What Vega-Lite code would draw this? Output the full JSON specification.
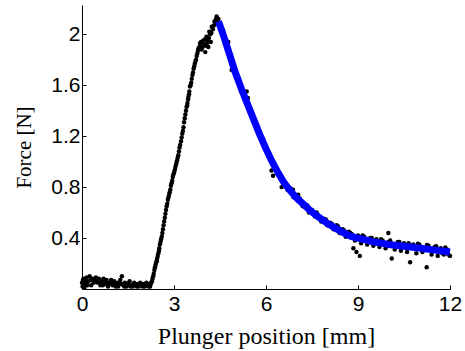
{
  "$schema": "https://vega.github.io/schema/vega-lite/v6.json",
  "autosize": "none",
  "padding": {"left": 82, "top": 5, "right": 15, "bottom": 62},
  "width": 368,
  "height": 284,
  "background": "white",
  "config": {
    "view": {"stroke": null},
    "axis": {
      "grid": false,
      "domainColor": "#000000",
      "tickColor": "#000000",
      "labelColor": "#000000",
      "titleColor": "#000000",
      "labelFont": "Liberation Sans",
      "labelFontSize": 21,
      "titleFont": "Liberation Serif",
      "titleFontWeight": "normal",
      "tickSize": -4
    }
  },
  "datasets": {
    "points": [
      {"x": 0.00, "y": 0.05}, {"x": 0.02, "y": 0.02}, {"x": 0.05, "y": 0.08}, {"x": 0.08, "y": 0.01}, {"x": 0.10, "y": 0.04},
      {"x": 0.15, "y": 0.09}, {"x": 0.20, "y": 0.06}, {"x": 0.25, "y": 0.10}, {"x": 0.30, "y": 0.03}, {"x": 0.35, "y": 0.08},
      {"x": 0.40, "y": 0.07}, {"x": 0.45, "y": 0.09}, {"x": 0.50, "y": 0.05}, {"x": 0.55, "y": 0.08}, {"x": 0.60, "y": 0.03},
      {"x": 0.65, "y": 0.06}, {"x": 0.70, "y": 0.08}, {"x": 0.75, "y": 0.04}, {"x": 0.80, "y": 0.07}, {"x": 0.85, "y": 0.02},
      {"x": 0.90, "y": 0.05}, {"x": 0.95, "y": 0.07}, {"x": 1.00, "y": 0.03}, {"x": 1.05, "y": 0.06}, {"x": 1.10, "y": 0.02},
      {"x": 1.15, "y": 0.05}, {"x": 1.20, "y": 0.04}, {"x": 1.25, "y": 0.07}, {"x": 1.30, "y": 0.10}, {"x": 1.35, "y": 0.03},
      {"x": 1.40, "y": 0.05}, {"x": 1.45, "y": 0.02}, {"x": 1.50, "y": 0.04}, {"x": 1.55, "y": 0.06}, {"x": 1.60, "y": 0.03},
      {"x": 1.65, "y": 0.02}, {"x": 1.70, "y": 0.05}, {"x": 1.75, "y": 0.03}, {"x": 1.80, "y": 0.04}, {"x": 1.85, "y": 0.02},
      {"x": 1.90, "y": 0.05}, {"x": 1.95, "y": 0.03}, {"x": 2.00, "y": 0.04}, {"x": 2.05, "y": 0.02}, {"x": 2.10, "y": 0.05},
      {"x": 2.15, "y": 0.03}, {"x": 2.20, "y": 0.04},
      {"x": 0.03, "y": 0.07}, {"x": 0.12, "y": 0.06}, {"x": 0.18, "y": 0.03}, {"x": 0.28, "y": 0.07}, {"x": 0.38, "y": 0.05},
      {"x": 0.48, "y": 0.07}, {"x": 0.58, "y": 0.05}, {"x": 0.68, "y": 0.03}, {"x": 0.78, "y": 0.06}, {"x": 0.88, "y": 0.04},
      {"x": 0.98, "y": 0.05}, {"x": 1.08, "y": 0.04}, {"x": 1.18, "y": 0.02}, {"x": 1.28, "y": 0.04}, {"x": 1.38, "y": 0.02},
      {"x": 1.48, "y": 0.03}, {"x": 1.58, "y": 0.02}, {"x": 1.68, "y": 0.04}, {"x": 1.78, "y": 0.02}, {"x": 1.88, "y": 0.03},
      {"x": 1.98, "y": 0.02}, {"x": 2.08, "y": 0.03}, {"x": 2.18, "y": 0.02},
      {"x": 2.22, "y": 0.02}, {"x": 2.26, "y": 0.05}, {"x": 2.30, "y": 0.08}, {"x": 2.34, "y": 0.12}, {"x": 2.38, "y": 0.17},
      {"x": 2.42, "y": 0.21}, {"x": 2.45, "y": 0.24}, {"x": 2.49, "y": 0.28}, {"x": 2.52, "y": 0.32}, {"x": 2.56, "y": 0.37},
      {"x": 2.60, "y": 0.41}, {"x": 2.64, "y": 0.47}, {"x": 2.68, "y": 0.53}, {"x": 2.72, "y": 0.59}, {"x": 2.76, "y": 0.65},
      {"x": 2.80, "y": 0.70}, {"x": 2.84, "y": 0.74}, {"x": 2.88, "y": 0.78}, {"x": 2.92, "y": 0.83}, {"x": 2.96, "y": 0.88},
      {"x": 3.00, "y": 0.91}, {"x": 3.04, "y": 0.95}, {"x": 3.08, "y": 0.99}, {"x": 3.12, "y": 1.03}, {"x": 3.16, "y": 1.08},
      {"x": 3.20, "y": 1.13}, {"x": 3.25, "y": 1.19}, {"x": 3.29, "y": 1.24}, {"x": 3.33, "y": 1.31}, {"x": 3.37, "y": 1.37},
      {"x": 3.41, "y": 1.43}, {"x": 3.44, "y": 1.46}, {"x": 3.47, "y": 1.51}, {"x": 3.50, "y": 1.55}, {"x": 3.52, "y": 1.59},
      {"x": 3.56, "y": 1.62}, {"x": 3.60, "y": 1.68}, {"x": 3.64, "y": 1.73}, {"x": 3.68, "y": 1.77}, {"x": 3.72, "y": 1.80},
      {"x": 3.76, "y": 1.85}, {"x": 3.80, "y": 1.89}, {"x": 3.85, "y": 1.93}, {"x": 3.90, "y": 1.88}, {"x": 3.95, "y": 1.95},
      {"x": 3.98, "y": 1.92}, {"x": 4.02, "y": 1.86}, {"x": 4.06, "y": 1.98}, {"x": 4.10, "y": 1.95}, {"x": 4.12, "y": 1.90},
      {"x": 4.15, "y": 2.02}, {"x": 4.18, "y": 2.00}, {"x": 4.20, "y": 1.94}, {"x": 4.23, "y": 2.06}, {"x": 4.27, "y": 2.04},
      {"x": 4.32, "y": 2.10}, {"x": 4.35, "y": 2.08}, {"x": 4.39, "y": 2.14}, {"x": 4.42, "y": 2.11},
      {"x": 2.24, "y": 0.04}, {"x": 2.28, "y": 0.06}, {"x": 2.32, "y": 0.10}, {"x": 2.36, "y": 0.15}, {"x": 2.40, "y": 0.19},
      {"x": 2.44, "y": 0.22}, {"x": 2.47, "y": 0.26}, {"x": 2.51, "y": 0.30}, {"x": 2.54, "y": 0.35}, {"x": 2.58, "y": 0.39},
      {"x": 2.62, "y": 0.44}, {"x": 2.66, "y": 0.50}, {"x": 2.70, "y": 0.56}, {"x": 2.74, "y": 0.62}, {"x": 2.78, "y": 0.67},
      {"x": 2.82, "y": 0.72}, {"x": 2.86, "y": 0.76}, {"x": 2.90, "y": 0.81}, {"x": 2.94, "y": 0.85}, {"x": 2.98, "y": 0.90},
      {"x": 3.02, "y": 0.93}, {"x": 3.06, "y": 0.97}, {"x": 3.10, "y": 1.01}, {"x": 3.14, "y": 1.05}, {"x": 3.18, "y": 1.11},
      {"x": 3.23, "y": 1.16}, {"x": 3.27, "y": 1.22}, {"x": 3.31, "y": 1.27}, {"x": 3.35, "y": 1.34}, {"x": 3.39, "y": 1.40},
      {"x": 3.43, "y": 1.44}, {"x": 3.46, "y": 1.49}, {"x": 3.49, "y": 1.53}, {"x": 3.54, "y": 1.60}, {"x": 3.58, "y": 1.65},
      {"x": 3.62, "y": 1.70}, {"x": 3.66, "y": 1.75}, {"x": 3.70, "y": 1.79}, {"x": 3.74, "y": 1.83}, {"x": 3.78, "y": 1.87},
      {"x": 3.83, "y": 1.90}, {"x": 3.88, "y": 1.94}, {"x": 3.93, "y": 1.90}, {"x": 4.00, "y": 1.96}, {"x": 4.04, "y": 1.91},
      {"x": 4.08, "y": 1.93}, {"x": 4.14, "y": 1.97}, {"x": 4.22, "y": 2.01}, {"x": 4.30, "y": 2.07}, {"x": 4.37, "y": 2.12},
      {"x": 4.45, "y": 2.12}, {"x": 4.50, "y": 2.05}, {"x": 4.60, "y": 2.03}, {"x": 4.70, "y": 1.95}, {"x": 4.77, "y": 1.94},
      {"x": 4.88, "y": 1.72}, {"x": 4.90, "y": 1.78}, {"x": 5.00, "y": 1.69}, {"x": 5.10, "y": 1.66}, {"x": 5.20, "y": 1.55},
      {"x": 5.30, "y": 1.53}, {"x": 5.37, "y": 1.55}, {"x": 5.41, "y": 1.50}, {"x": 5.50, "y": 1.40}, {"x": 5.60, "y": 1.31},
      {"x": 5.70, "y": 1.29}, {"x": 5.80, "y": 1.21}, {"x": 5.90, "y": 1.18}, {"x": 6.00, "y": 1.09}, {"x": 6.10, "y": 1.07},
      {"x": 6.18, "y": 0.93}, {"x": 6.20, "y": 1.01}, {"x": 6.23, "y": 0.89}, {"x": 6.30, "y": 0.97}, {"x": 6.40, "y": 0.90},
      {"x": 6.50, "y": 0.86}, {"x": 6.51, "y": 0.80}, {"x": 6.60, "y": 0.84}, {"x": 6.70, "y": 0.78}, {"x": 6.80, "y": 0.79},
      {"x": 6.88, "y": 0.78}, {"x": 6.90, "y": 0.72}, {"x": 7.00, "y": 0.72}, {"x": 7.10, "y": 0.71}, {"x": 7.20, "y": 0.65},
      {"x": 7.30, "y": 0.66}, {"x": 7.40, "y": 0.60}, {"x": 7.50, "y": 0.62}, {"x": 7.60, "y": 0.57}, {"x": 7.70, "y": 0.58},
      {"x": 7.80, "y": 0.53}, {"x": 7.90, "y": 0.55}, {"x": 8.00, "y": 0.50}, {"x": 8.10, "y": 0.52}, {"x": 8.20, "y": 0.47},
      {"x": 8.30, "y": 0.50}, {"x": 8.40, "y": 0.44}, {"x": 8.50, "y": 0.47}, {"x": 8.60, "y": 0.41}, {"x": 8.70, "y": 0.45},
      {"x": 8.80, "y": 0.43}, {"x": 8.85, "y": 0.32}, {"x": 8.90, "y": 0.38}, {"x": 8.95, "y": 0.29}, {"x": 9.00, "y": 0.42},
      {"x": 9.06, "y": 0.26}, {"x": 9.10, "y": 0.36}, {"x": 9.20, "y": 0.41}, {"x": 9.30, "y": 0.35}, {"x": 9.40, "y": 0.40},
      {"x": 9.50, "y": 0.34}, {"x": 9.60, "y": 0.39}, {"x": 9.70, "y": 0.33}, {"x": 9.80, "y": 0.38}, {"x": 9.90, "y": 0.32},
      {"x": 9.99, "y": 0.44}, {"x": 10.00, "y": 0.37}, {"x": 10.10, "y": 0.24}, {"x": 10.20, "y": 0.31}, {"x": 10.30, "y": 0.37},
      {"x": 10.40, "y": 0.30}, {"x": 10.50, "y": 0.36}, {"x": 10.60, "y": 0.29}, {"x": 10.70, "y": 0.21}, {"x": 10.80, "y": 0.35},
      {"x": 10.90, "y": 0.28}, {"x": 11.00, "y": 0.35}, {"x": 11.10, "y": 0.29}, {"x": 11.24, "y": 0.17}, {"x": 11.30, "y": 0.34},
      {"x": 11.40, "y": 0.27}, {"x": 11.50, "y": 0.33}, {"x": 11.60, "y": 0.26}, {"x": 11.70, "y": 0.32}, {"x": 11.80, "y": 0.27},
      {"x": 11.90, "y": 0.31}, {"x": 12.00, "y": 0.26},
      {"x": 7.05, "y": 0.74}, {"x": 7.35, "y": 0.655}, {"x": 7.65, "y": 0.60}, {"x": 7.95, "y": 0.545}, {"x": 8.15, "y": 0.51},
      {"x": 8.35, "y": 0.49}, {"x": 8.55, "y": 0.46}, {"x": 8.75, "y": 0.44}, {"x": 9.15, "y": 0.42}, {"x": 9.45, "y": 0.40},
      {"x": 9.75, "y": 0.39}, {"x": 10.05, "y": 0.38}, {"x": 10.35, "y": 0.37}, {"x": 10.65, "y": 0.36}, {"x": 10.95, "y": 0.355},
      {"x": 11.25, "y": 0.345}, {"x": 11.55, "y": 0.335}, {"x": 11.85, "y": 0.325}, {"x": 11.95, "y": 0.27}, {"x": 11.75, "y": 0.28}
    ],
    "fit": [
      {"x": 4.45, "y": 2.10}, {"x": 4.6, "y": 2.00}, {"x": 4.8, "y": 1.85}, {"x": 5.0, "y": 1.70}, {"x": 5.2, "y": 1.57},
      {"x": 5.4, "y": 1.45}, {"x": 5.6, "y": 1.33}, {"x": 5.8, "y": 1.21}, {"x": 6.0, "y": 1.10}, {"x": 6.2, "y": 1.00},
      {"x": 6.4, "y": 0.91}, {"x": 6.6, "y": 0.83}, {"x": 6.8, "y": 0.77}, {"x": 7.0, "y": 0.715}, {"x": 7.2, "y": 0.67},
      {"x": 7.4, "y": 0.625}, {"x": 7.6, "y": 0.585}, {"x": 7.8, "y": 0.55}, {"x": 8.0, "y": 0.515}, {"x": 8.25, "y": 0.48},
      {"x": 8.5, "y": 0.445}, {"x": 8.75, "y": 0.415}, {"x": 9.0, "y": 0.40}, {"x": 9.25, "y": 0.385}, {"x": 9.5, "y": 0.37},
      {"x": 9.75, "y": 0.36}, {"x": 10.0, "y": 0.35}, {"x": 10.5, "y": 0.335}, {"x": 11.0, "y": 0.322}, {"x": 11.5, "y": 0.305},
      {"x": 12.0, "y": 0.29}
    ]
  },
  "layer": [
    {
      "data": {"name": "points"},
      "mark": {"type": "circle", "color": "#000000", "opacity": 1, "size": 20},
      "encoding": {
        "x": {
          "field": "x", "type": "quantitative",
          "scale": {"domain": [0, 12], "nice": false, "zero": false},
          "axis": {
            "values": [0, 3, 6, 9, 12],
            "title": "Plunger position [mm]",
            "titleFontSize": 24,
            "labelPadding": 8,
            "titlePadding": 10,
            "labelFlush": false
          }
        },
        "y": {
          "field": "y", "type": "quantitative",
          "scale": {"domain": [0, 2.23], "nice": false, "zero": false},
          "axis": {
            "values": [0.4, 0.8, 1.2, 1.6, 2],
            "labelExpr": "'' + datum.value",
            "title": "Force [N]",
            "titleFontSize": 21,
            "labelPadding": 6,
            "titlePadding": 16
          }
        }
      }
    },
    {
      "data": {"name": "fit"},
      "mark": {"type": "line", "color": "#0000ff", "strokeWidth": 7, "strokeCap": "butt"},
      "encoding": {
        "x": {"field": "x", "type": "quantitative"},
        "y": {"field": "y", "type": "quantitative"}
      }
    }
  ]
}
